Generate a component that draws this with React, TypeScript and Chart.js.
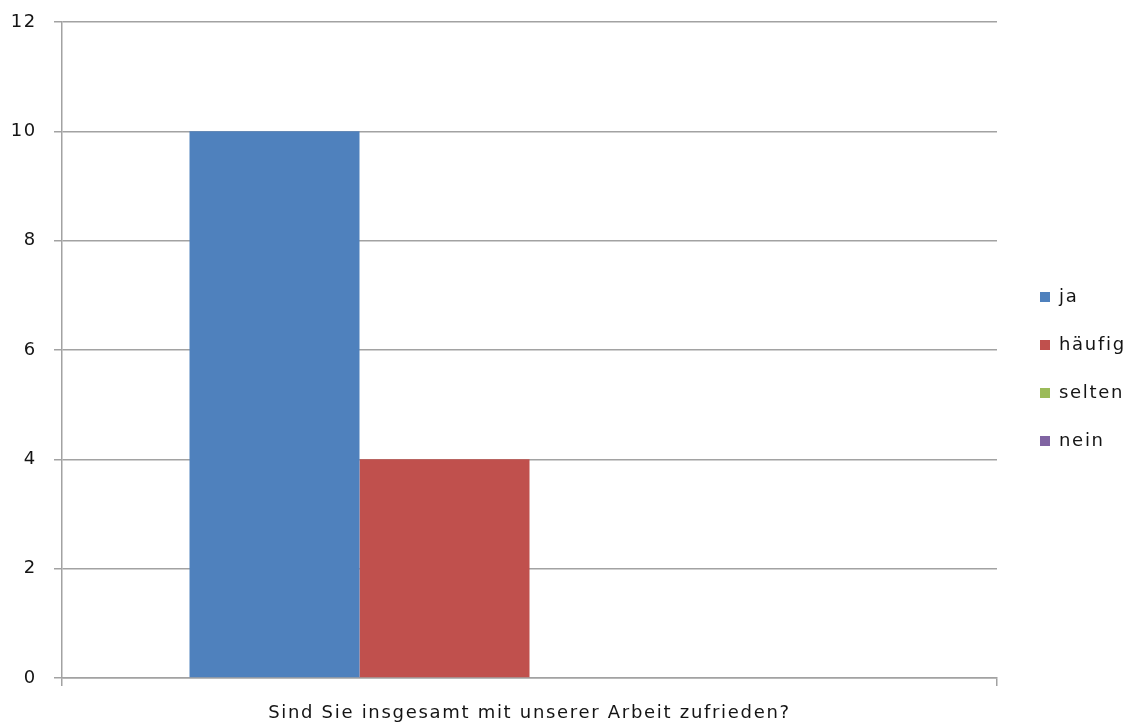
import React, { useEffect, useRef } from "react";
import { Chart, registerables } from "chart.js";

Chart.register(...registerables);

const categories = ["Sind Sie insgesamt mit unserer Arbeit zufrieden?"];
const seriesNames = ["ja", "häufig", "selten", "nein"];
const jaValues = [10];
const haeufigValues = [4];
const seltenValues = [0];
const neinValues = [0];
const seriesColors = ["#4F81BD", "#C0504D", "#9BBB59", "#8064A2"];
const yMin = 0;
const yMax = 12;
const yStep = 2;

const FONT = "'DejaVu Sans', sans-serif";
const GRID = "#a2a2a2";
const TEXT = "#141414";

const spacingPlugin = {
  id: "letterSpacing",
  beforeUpdate(chart: any) {
    (chart.ctx as any).letterSpacing = "1.7px";
  },
  beforeDraw(chart: any) {
    (chart.ctx as any).letterSpacing = "1.7px";
  },
};

export default function App() {
  const ref = useRef<HTMLCanvasElement | null>(null);

  useEffect(() => {
    if (!ref.current) return;
    const values = [jaValues, haeufigValues, seltenValues, neinValues];
    const chart = new Chart(ref.current, {
      type: "bar",
      data: {
        labels: categories,
        datasets: seriesNames.map((name, i) => ({
          label: name,
          data: values[i],
          backgroundColor: seriesColors[i],
          borderWidth: 0,
          categoryPercentage: 4 / 5.5,
          barPercentage: 1,
          yAxisID: "y",
        })),
      },
      options: {
        animation: false,
        responsive: false,
        devicePixelRatio: 1,
        layout: { padding: { top: 22, left: 0, right: 0, bottom: 0 } },
        font: { family: FONT, size: 18 },
        scales: {
          x: {
            grid: {
              display: true,
              offset: true,
              drawOnChartArea: false,
              drawTicks: true,
              tickLength: 8,
              color: GRID,
              lineWidth: 1.5,
            },
            border: { display: true, color: GRID, width: 1.5 },
            ticks: {
              color: TEXT,
              font: { family: FONT, size: 18 },
              padding: 17,
              maxRotation: 0,
            },
            afterFit: (s: any) => {
              s.height = 47;
            },
          },
          y: {
            position: "left",
            min: yMin,
            max: yMax,
            ticks: {
              stepSize: yStep,
              color: TEXT,
              font: { family: FONT, size: 18 },
              padding: 17,
            },
            grid: {
              color: GRID,
              lineWidth: 1.5,
              tickLength: 8,
              drawTicks: true,
            },
            border: { display: true, color: GRID, width: 1.5 },
            afterFit: (s: any) => {
              s.width = 62;
              s.paddingTop = 8;
              s.paddingBottom = 8;
            },
          },
          spacer: {
            type: "linear",
            position: "right",
            display: true,
            grid: { display: false, drawTicks: false },
            border: { display: false },
            ticks: { display: false },
            afterFit: (s: any) => {
              s.width = 13;
            },
          },
        },
        plugins: {
          tooltip: { enabled: false },
          legend: {
            position: "right",
            align: "center",
            fullSize: false,
            maxWidth: 122,
            title: {
              display: true,
              text: "",
              font: { size: 10, lineHeight: 1 },
              padding: { top: 28, bottom: 0 },
            },
            labels: {
              boxWidth: 10,
              boxHeight: 10,
              padding: 30,
              color: TEXT,
              font: { family: FONT, size: 18 },
            },
          },
        },
      } as any,
      plugins: [spacingPlugin],
    });
    return () => chart.destroy();
  }, []);

  return (
    <div style={{ position: "fixed", left: 0, top: 0, width: 1132, height: 725, background: "#fff" }}>
      <canvas ref={ref} width={1132} height={725} style={{ display: "block" }} />
    </div>
  );
}
